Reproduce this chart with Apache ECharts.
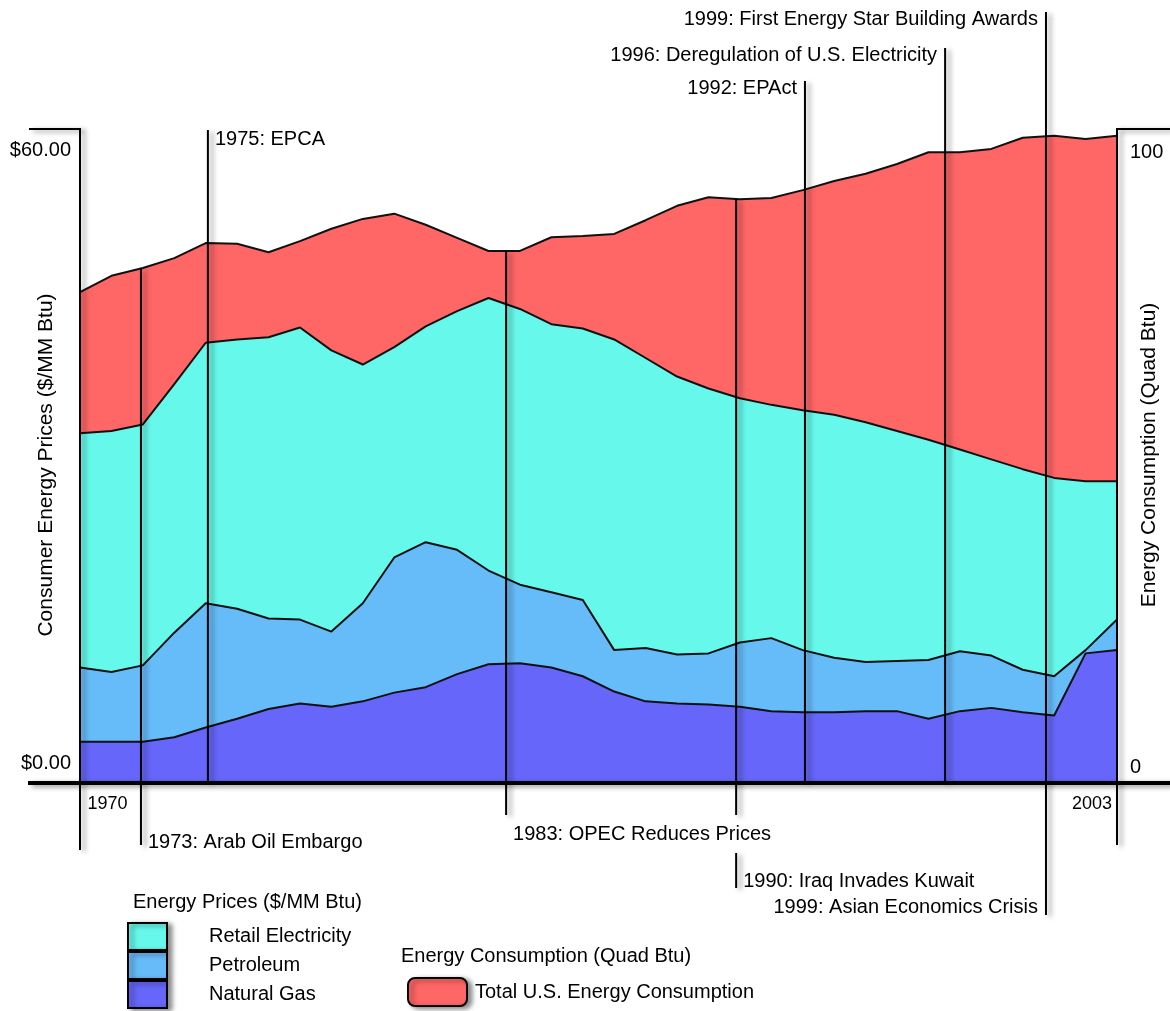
<!DOCTYPE html>
<html>
<head>
<meta charset="utf-8">
<script src="https://cdn.jsdelivr.net/npm/echarts@6/dist/echarts.min.js"></script>
<style>
  html, body { margin: 0; padding: 0; background: #fff; }
  #chart { width: 1170px; height: 1011px; }
</style>
</head>
<body>
<div id="chart"></div>
<script>
const years = ['1970','1971','1972','1973','1974','1975','1976','1977','1978','1979',
  '1980','1981','1982','1983','1984','1985','1986','1987','1988','1989',
  '1990','1991','1992','1993','1994','1995','1996','1997','1998','1999',
  '2000','2001','2002','2003'];

// Quad Btu
const consumption = [74.9,77.4,78.6,80.1,82.4,82.3,81.0,82.7,84.6,86.1,
  86.9,85.2,83.2,81.2,81.2,83.3,83.5,83.8,85.9,88.1,
  89.4,89.1,89.3,90.5,91.9,93.0,94.5,96.3,96.3,96.8,
  98.5,98.8,98.3,98.8];

// $/MM Btu
const electricity = [32.0,32.2,32.8,36.5,40.3,40.6,40.8,41.7,39.6,38.3,
  39.9,41.8,43.2,44.4,43.4,42.0,41.6,40.6,38.9,37.2,
  36.1,35.2,34.6,34.1,33.7,33.0,32.2,31.4,30.5,29.6,
  28.7,27.9,27.6,27.6];
const petroleum = [10.5,10.1,10.7,13.7,16.4,15.9,15.0,14.9,13.8,16.4,
  20.6,22.0,21.3,19.4,18.1,17.4,16.7,12.1,12.3,11.7,
  11.8,12.8,13.2,12.1,11.4,11.0,11.1,11.2,12.0,11.6,
  10.3,9.7,12.1,14.9];
const naturalGas = [3.7,3.7,3.7,4.1,5.0,5.8,6.7,7.2,6.9,7.4,
  8.2,8.7,9.9,10.8,10.9,10.5,9.7,8.3,7.4,7.2,
  7.1,6.9,6.5,6.4,6.4,6.5,6.5,5.8,6.5,6.8,
  6.4,6.1,11.8,12.1];

const priceTicks = [0, 60];
const quadTicks = [0, 100];

const eventLabels = ['1973: Arab Oil Embargo', '1975: EPCA', '1983: OPEC Reduces Prices',
  '1990: Iraq Invades Kuwait', '1992: EPAct', '1996: Deregulation of U.S. Electricity',
  '1999: First Energy Star Building Awards', '1999: Asian Economics Crisis'];
// where each marker sits on the drawn time axis
const eventAt = [1971.94, 1974.07, 1983.56, 1990.88, 1993.07, 1997.53, 2000.74, 2000.74];

// line extents / label rows (pixels), 'area' = start on the consumption surface
const eventLayout = [
  { top: 'area', bottom: 845, side: 'right', labelY: 842 },
  { top: 130, bottom: 'axis', side: 'right', labelY: 139 },
  { top: 'area', bottom: 815, side: 'right', labelY: 834 },
  { top: 'area', bottom: 815, side: 'right', labelY: 881, extra: [853, 888] },
  { top: 81, bottom: 'axis', side: 'left', labelY: 88 },
  { top: 48, bottom: 'axis', side: 'left', labelY: 55 },
  { top: 12, bottom: 915, side: 'left', labelY: 19 },
  { top: null, side: 'left', labelY: 907 }
];

const FONT = '"Liberation Sans", Arial, Helvetica, sans-serif';
const INK = '#000';
const colors = { red: '#ff6666', cyan: '#66f9eb', light: '#66bbf9', blue: '#6666fa' };
const edge = { color: '#111', width: 2 };
const shadow = { shadowBlur: 5, shadowOffsetX: 4, shadowOffsetY: 2, shadowColor: 'rgba(0,0,0,0.45)' };

const chart = echarts.init(document.getElementById('chart'));

function area(name, data, color, yAxisIndex) {
  return {
    name, type: 'line', data, yAxisIndex,
    symbol: 'none', smooth: false, color,
    lineStyle: edge,
    areaStyle: { color, opacity: 1 },
    emphasis: { disabled: true }
  };
}

const legendText = { fontFamily: FONT, fontSize: 20, color: INK };
const swatch = (name, color) => ({
  name, icon: 'rect',
  itemStyle: Object.assign({ color, borderColor: '#000', borderWidth: 2 }, shadow)
});

const option = {
  animation: false,
  backgroundColor: '#fff',
  textStyle: { fontFamily: FONT },
  grid: { left: 80, right: 53, top: 128, bottom: 229, outerBoundsMode: 'none', containLabel: false },
  title: [
    { text: 'Energy Prices ($/MM Btu)', left: 133, top: 892, padding: 0,
      textStyle: Object.assign({ fontWeight: 'normal' }, legendText) },
    { text: 'Energy Consumption (Quad Btu)', left: 401, top: 946, padding: 0,
      textStyle: Object.assign({ fontWeight: 'normal' }, legendText) }
  ],
  legend: [
    { left: 127, top: 922, orient: 'vertical', padding: 0, itemGap: 0,
      itemWidth: 39, itemHeight: 27, selectedMode: false,
      textStyle: Object.assign({ padding: [0, 0, 0, 37] }, legendText),
      data: [swatch('Retail Electricity', colors.cyan), swatch('Petroleum', colors.light),
        swatch('Natural Gas', colors.blue)] },
    { left: 407, top: 977, padding: 0, itemWidth: 59, itemHeight: 28, selectedMode: false,
      textStyle: Object.assign({ padding: [0, 0, 0, 3] }, legendText),
      data: [Object.assign(swatch('Total U.S. Energy Consumption', colors.red), { icon: 'roundRect' })] }
  ],
  xAxis: {
    type: 'category', data: years, boundaryGap: false,
    axisLine: { show: false }, axisTick: { show: false }, splitLine: { show: false },
    axisLabel: {
      interval: (i) => i === 0 || i === years.length - 1,
      margin: 13,
      formatter: (v, i) => (i === 0 ? '{l|' + v + '}' : '{r|' + v + '}'),
      rich: {
        l: { fontFamily: FONT, fontSize: 18, color: INK, padding: [0, 0, 0, 55] },
        r: { fontFamily: FONT, fontSize: 18, color: INK, padding: [0, 50, 0, 0] }
      }
    }
  },
  yAxis: [
    {
      type: 'value', min: priceTicks[0], max: priceTicks[1], interval: priceTicks[1],
      name: 'Consumer Energy Prices ($/MM Btu)', nameLocation: 'middle', nameRotate: 90, nameGap: 23,
      nameMoveOverlap: false,
      nameTextStyle: { fontFamily: FONT, fontSize: 21, color: INK, padding: [0, 20, 0, 0] },
      axisLine: { show: false }, axisTick: { show: false }, splitLine: { show: false },
      axisLabel: {
        margin: 9,
        formatter: (v) => (v === priceTicks[1] ? '{t|$' + v.toFixed(2) + '}' : '{b|$' + v.toFixed(2) + '}'),
        rich: {
          t: { fontFamily: FONT, fontSize: 20, color: INK, padding: [44, 0, 0, 0] },
          b: { fontFamily: FONT, fontSize: 20, color: INK, padding: [0, 0, 38, 0] }
        }
      }
    },
    {
      type: 'value', min: quadTicks[0], max: quadTicks[1], interval: quadTicks[1], position: 'right',
      name: 'Energy Consumption (Quad Btu)', nameLocation: 'middle', nameRotate: 90, nameGap: 22,
      nameMoveOverlap: false,
      nameTextStyle: { fontFamily: FONT, fontSize: 21, color: INK },
      axisLine: { show: false }, axisTick: { show: false }, splitLine: { show: false },
      axisLabel: {
        margin: 13,
        formatter: (v) => (v === quadTicks[1] ? '{t|' + v + '}' : '{b|' + v + '}'),
        rich: {
          t: { fontFamily: FONT, fontSize: 20, color: INK, padding: [48, 0, 0, 0] },
          b: { fontFamily: FONT, fontSize: 20, color: INK, padding: [0, 0, 30, 0] }
        }
      }
    }
  ],
  series: [
    area('Total U.S. Energy Consumption', consumption, colors.red, 1),
    area('Retail Electricity', electricity, colors.cyan, 0),
    area('Petroleum', petroleum, colors.light, 0),
    area('Natural Gas', naturalGas, colors.blue, 0)
  ]
};

chart.setOption(option);

// frame + event annotations, positioned through the chart's own scales
const x0 = chart.convertToPixel({ xAxisIndex: 0 }, 0);
const x1 = chart.convertToPixel({ xAxisIndex: 0 }, years.length - 1);
const yTop = chart.convertToPixel({ yAxisIndex: 0 }, priceTicks[1]);
const yBot = chart.convertToPixel({ yAxisIndex: 0 }, priceTicks[0]);
const span = years.length - 1;
const xAt = (pos) => x0 + (pos - Number(years[0])) / span * (x1 - x0);
const surfaceAt = (pos) => {
  const f = pos - Number(years[0]);
  const i = Math.floor(f), t = f - i;
  const v = consumption[i] + (consumption[Math.min(i + 1, span)] - consumption[i]) * t;
  return chart.convertToPixel({ yAxisIndex: 1 }, v);
};

function seg(xa, ya, xb, yb, w) {
  return { type: 'line', z: 100, silent: true,
    shape: { x1: xa, y1: ya, x2: xb, y2: yb },
    style: Object.assign({ stroke: '#000', lineWidth: w || 2 }, shadow) };
}
function label(text, x, y, align) {
  return { type: 'text', z: 101, silent: true, x, y,
    style: { text, fill: INK, font: '20px ' + FONT,
      align, textAlign: align, verticalAlign: 'middle', textVerticalAlign: 'middle' } };
}

const elements = [
  seg(x0, yTop, x0, 850),
  seg(29, yTop + 1, x0, yTop + 1),
  seg(x1, yTop, x1, 845),
  seg(x1, yTop + 1, 1170, yTop + 1),
  seg(28, yBot + 1, 1170, yBot + 1, 4)
];

eventLabels.forEach((text, k) => {
  const lay = eventLayout[k];
  const x = xAt(eventAt[k]);
  if (lay.top !== null) {
    const top = lay.top === 'area' ? surfaceAt(eventAt[k]) : lay.top;
    const bottom = lay.bottom === 'axis' ? yBot : lay.bottom;
    elements.push(seg(x, top, x, bottom));
  }
  if (lay.extra) elements.push(seg(x, lay.extra[0], x, lay.extra[1]));
  if (lay.side === 'right') elements.push(label(text, x + 7, lay.labelY, 'left'));
  else elements.push(label(text, x - 8, lay.labelY, 'right'));
});

chart.setOption({ graphic: { elements } });
</script>
</body>
</html>
